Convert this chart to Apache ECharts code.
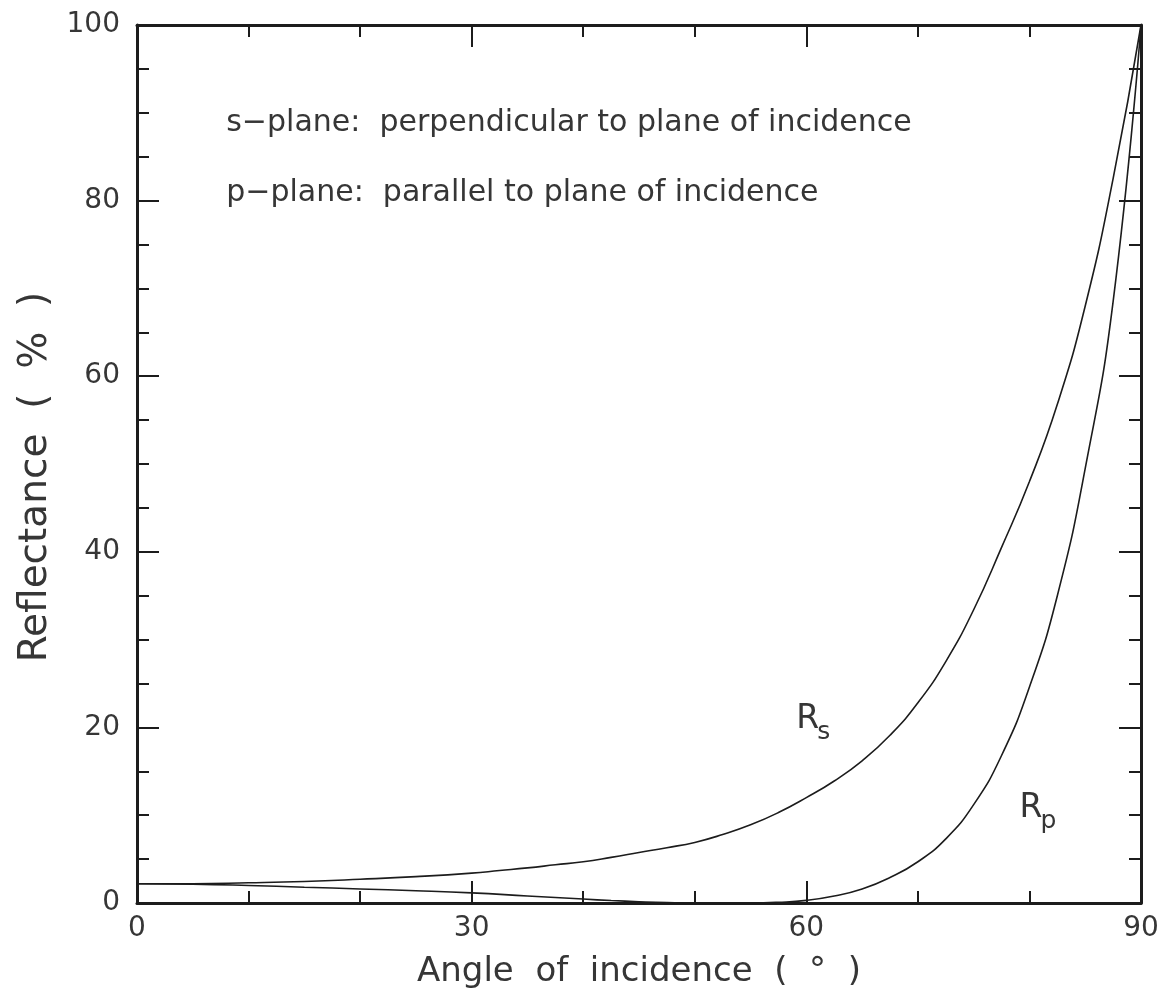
<!DOCTYPE html>
<html>
<head>
<meta charset="utf-8">
<script src="https://cdn.jsdelivr.net/npm/echarts@6/dist/echarts.min.js"></script>
<style>
  html, body { margin: 0; padding: 0; background: #ffffff; }
  #chart { width: 1157px; height: 998px; }
</style>
</head>
<body>
<div id="chart"></div>
<script>
// Reflectance (%) versus angle of incidence (degrees)
const angleRs  = [0, 5, 10, 15, 20, 25, 30, 32.5, 35, 37.5, 40, 42.5, 45, 47.5, 50, 52.5, 55, 57.5, 60, 62.5, 65, 67.5, 70, 72.5, 75, 77.5, 80, 82.5, 85, 87.5, 90];
const valuesRs = [2.2, 2.2, 2.3, 2.45, 2.7, 3.0, 3.4, 3.7, 4.0, 4.35, 4.7, 5.2, 5.75, 6.3, 6.9, 7.8, 8.9, 10.3, 12.0, 13.9, 16.2, 19.1, 22.8, 27.5, 33.4, 40.5, 48.0, 56.8, 68.0, 82.5, 100];

const angleRp  = [0, 5, 10, 15, 20, 25, 30, 35, 40, 42.5, 45, 47.5, 50, 52.5, 55, 57.5, 60, 62.5, 65, 67.5, 70, 72.5, 75, 77.5, 80, 82.5, 85, 87.5, 90];
const valuesRp = [2.2, 2.15, 2.0, 1.8, 1.6, 1.4, 1.15, 0.8, 0.45, 0.28, 0.15, 0.05, 0.0, 0.0, 0.0, 0.08, 0.3, 0.8, 1.6, 2.9, 4.7, 7.3, 11.2, 16.8, 24.6, 35.0, 49.5, 68.5, 100];

const xTicks = [0, 30, 60, 90];
const yTicks = [0, 20, 40, 60, 80, 100];

const noteLines = [
  's\u2212plane:  perpendicular to plane of incidence',
  'p\u2212plane:  parallel to plane of incidence'
];

const FONT = '"DejaVu Sans", "Liberation Sans", sans-serif';
const INK = '#1c1c1c';
const TEXT = '#363636';

function pairs(xs, ys) { return xs.map((x, i) => [x, ys[i]]); }

function frameAxis(extra) {
  return Object.assign({
    type: 'value',
    axisLine: { show: true, onZero: false, lineStyle: { color: INK, width: 3 } },
    axisTick: { show: true, inside: true, length: 22, lineStyle: { color: INK, width: 2 } },
    splitLine: { show: false },
    minorSplitLine: { show: false }
  }, extra);
}

const chart = echarts.init(document.getElementById('chart'), null, { renderer: 'canvas' });

chart.setOption({
  backgroundColor: '#ffffff',
  animation: false,
  grid: { left: 137, right: 16, top: 25, bottom: 95, containLabel: false, outerBoundsMode: 'none' },
  xAxis: [
    frameAxis({
      position: 'bottom', min: xTicks[0], max: xTicks[xTicks.length - 1], interval: 30,
      minorTick: { show: true, splitNumber: 3, length: 12, lineStyle: { color: INK, width: 2 } },
      axisLabel: { show: true, fontSize: 28, color: TEXT, fontFamily: FONT, margin: 12 },
      name: 'Angle  of  incidence  (  \u00b0  )', nameLocation: 'middle', nameGap: 52,
      nameTextStyle: { fontSize: 34, color: TEXT, fontFamily: FONT }
    }),
    frameAxis({
      position: 'top', min: xTicks[0], max: xTicks[xTicks.length - 1], interval: 30,
      minorTick: { show: true, splitNumber: 3, length: 12, lineStyle: { color: INK, width: 2 } },
      axisLabel: { show: false }
    })
  ],
  yAxis: [
    frameAxis({
      position: 'left', min: yTicks[0], max: yTicks[yTicks.length - 1], interval: 20,
      minorTick: { show: true, splitNumber: 4, length: 12, lineStyle: { color: INK, width: 2 } },
      axisLabel: { show: true, fontSize: 28, color: TEXT, fontFamily: FONT, margin: 17 },
      name: 'Reflectance  (  %  )', nameLocation: 'middle', nameGap: 78, nameRotate: 90,
      nameTextStyle: { fontSize: 39, color: TEXT, fontFamily: FONT, padding: [0, 26, 0, 0] }
    }),
    frameAxis({
      position: 'right', min: yTicks[0], max: yTicks[yTicks.length - 1], interval: 20,
      minorTick: { show: true, splitNumber: 4, length: 12, lineStyle: { color: INK, width: 2 } },
      axisLabel: { show: false }
    })
  ],
  series: [
    {
      name: 'Rs', type: 'line', xAxisIndex: 0, yAxisIndex: 0,
      data: pairs(angleRs, valuesRs),
      showSymbol: false, smooth: 0.5,
      lineStyle: { color: INK, width: 1.6 }, z: 3
    },
    {
      name: 'Rp', type: 'line', xAxisIndex: 0, yAxisIndex: 0,
      data: pairs(angleRp, valuesRp),
      showSymbol: false, smooth: 0.5,
      lineStyle: { color: INK, width: 1.6 }, z: 3
    }
  ]
});

// Text annotations anchored in data coordinates
const toPx = (pt) => chart.convertToPixel({ xAxisIndex: 0, yAxisIndex: 0 }, pt);

const noteAnchors = [[8, 88.8], [8, 80.8]];
const curveLabels = [
  { main: 'R', sub: 's', at: [59.1, 19.0] },
  { main: 'R', sub: 'p', at: [79.1, 8.9] }
];

const graphics = [];
noteLines.forEach((txt, i) => {
  const p = toPx(noteAnchors[i]);
  graphics.push({
    type: 'text', x: p[0], y: p[1],
    style: { text: txt, fill: TEXT, font: '30px ' + FONT, textAlign: 'left', textVerticalAlign: 'middle' }
  });
});
curveLabels.forEach((lab) => {
  const p = toPx(lab.at);
  graphics.push({
    type: 'text', x: p[0], y: p[1],
    style: { text: lab.main, fill: TEXT, font: '33px ' + FONT, textAlign: 'left', textVerticalAlign: 'bottom' }
  });
  graphics.push({
    type: 'text', x: p[0] + 21, y: p[1] + 9,
    style: { text: lab.sub, fill: TEXT, font: '25px ' + FONT, textAlign: 'left', textVerticalAlign: 'bottom' }
  });
});
chart.setOption({ graphic: graphics });
</script>
</body>
</html>
